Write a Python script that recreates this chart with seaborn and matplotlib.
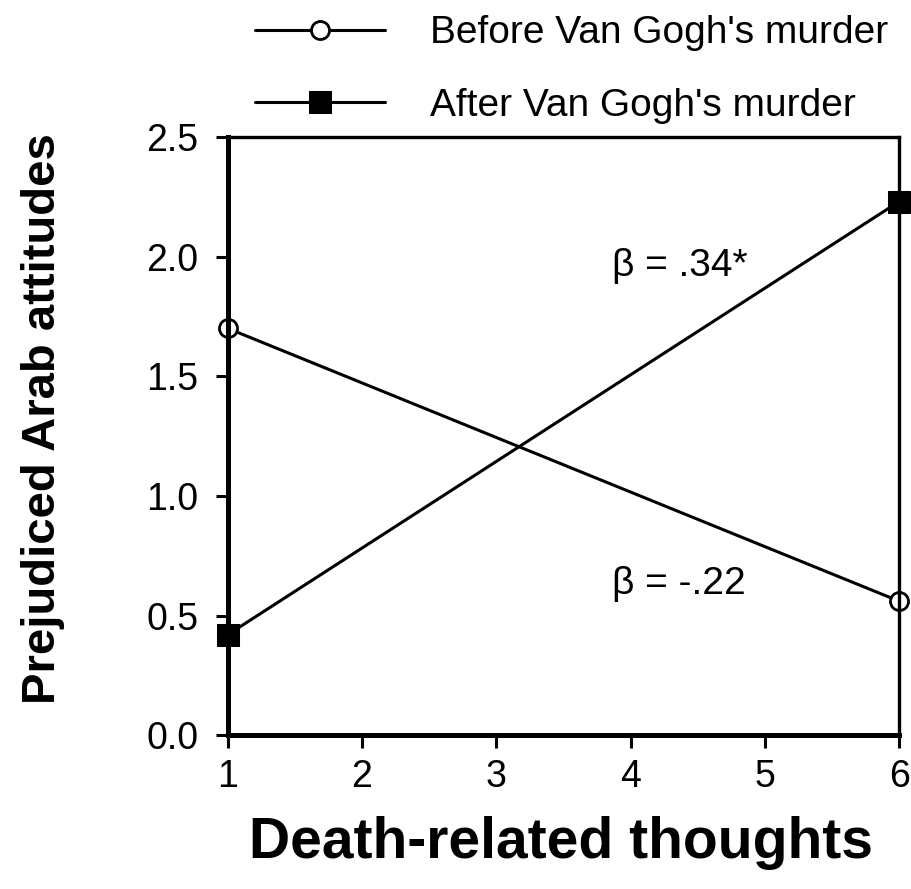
import seaborn as sns
import matplotlib.pyplot as plt
import pandas as pd

# values
death_thoughts = [1, 6]
before_murder = [1.70, 0.56]
after_murder = [0.42, 2.23]
series_labels = ["Before Van Gogh's murder", "After Van Gogh's murder"]
beta_labels = ["\u03b2 = .34*", "\u03b2 = -.22"]
beta_pos = [(3.86, 1.96), (3.86, 0.63)]
y_ticks = [0.0, 0.5, 1.0, 1.5, 2.0, 2.5]
x_ticks = [1, 2, 3, 4, 5, 6]

df = pd.DataFrame({
    "x": death_thoughts * 2,
    "y": before_murder + after_murder,
    "group": [series_labels[0]] * 2 + [series_labels[1]] * 2,
})

sns.set_style("white")
plt.rcParams["font.family"] = ["Liberation Sans", "DejaVu Sans"]
plt.rcParams["text.color"] = "black"
plt.rcParams["axes.labelcolor"] = "black"
plt.rcParams["xtick.color"] = "black"
plt.rcParams["ytick.color"] = "black"

fig = plt.figure(figsize=(9.11, 8.89), dpi=100)
ax = fig.add_axes([0.250, 0.173, 0.737, 0.673])

# before: open circles, after: filled squares
sns.lineplot(data=df[df.group == series_labels[0]], x="x", y="y", ax=ax,
             color="black", lw=2.2, marker="o", markersize=13,
             markerfacecolor="white", markeredgecolor="black",
             markeredgewidth=2, label=series_labels[0])
sns.lineplot(data=df[df.group == series_labels[1]], x="x", y="y", ax=ax,
             color="black", lw=2.2, marker="s", markersize=16,
             markerfacecolor="black", markeredgecolor="black",
             label=series_labels[1])
for ln in ax.lines:
    ln.set_clip_on(False)

for txt, (bx, by) in zip(beta_labels, beta_pos):
    ax.text(bx, by, txt, fontsize=28, ha="left", va="center")

ax.set_xlim(1, 6)
ax.set_ylim(0, 2.5)
ax.set_xticks(x_ticks)
ax.set_yticks(y_ticks)
ax.set_yticklabels([f"{v:.1f}" for v in y_ticks])
ax.tick_params(axis="both", direction="out", length=9, width=2.2,
               labelsize=27, pad=8, left=True, bottom=True)
ax.tick_params(axis="y", pad=12)

for side in ["left", "bottom"]:
    ax.spines[side].set_linewidth(3.6)
for side in ["top", "right"]:
    ax.spines[side].set_linewidth(2.4)
for sp in ax.spines.values():
    sp.set_color("black")

ax.set_xlabel("Death-related thoughts", fontsize=41, fontweight="bold")
ax.set_ylabel("Prejudiced Arab attitudes", fontsize=34, fontweight="bold")
ax.xaxis.set_label_coords(0.496, -0.18)
ax.xaxis.label.set_va("center")
ax.yaxis.set_label_coords(-0.243, 0.53)

ax.legend(loc="upper left", bbox_to_anchor=(0.28, 0.983),
          bbox_transform=fig.transFigure, frameon=False, fontsize=28,
          handlelength=3.35, handletextpad=1.16, labelspacing=0.95,
          borderaxespad=0.0, borderpad=0.0)

fig.savefig("out.png", dpi=100)
